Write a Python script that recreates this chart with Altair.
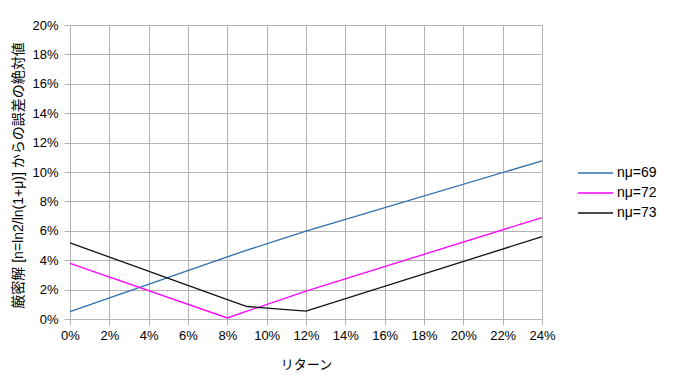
import altair as alt
import pandas as pd

# Return (fraction) sample points
returns = [0.0, 0.08, 0.09, 0.12, 0.24]
# Absolute error vs exact solution
err_69 = [0.0050, 0.0423, 0.0468, 0.0598, 0.1076]
err_72 = [0.0378, 0.0007, 0.0053, 0.0190, 0.0690]
err_73 = [0.0518, 0.0132, 0.0085, 0.0054, 0.0560]

series_names = ["nμ=69", "nμ=72", "nμ=73"]
series_colors = ["#2f6fad", "#ff00ff", "#111111"]

x_ticks = [i / 100 for i in range(0, 25, 2)]
y_ticks = [i / 100 for i in range(0, 21, 2)]

rows = []
for name, vals in zip(series_names, [err_69, err_72, err_73]):
    for i, (r, v) in enumerate(zip(returns, vals)):
        rows.append({"series": name, "ret": r, "err": v, "order": i})
df = pd.DataFrame(rows)

FONT = "Liberation Sans, Noto Sans CJK JP"

chart = alt.Chart(df).mark_line(strokeWidth=1.3).encode(
    x=alt.X("ret:Q",
            scale=alt.Scale(domain=[0, 0.24], nice=False, zero=False),
            axis=alt.Axis(values=x_ticks, format=".0%", title="リターン",
                          grid=True, gridColor="#b3b3b3", gridWidth=1,
                          domain=False, tickColor="#b3b3b3", tickSize=6,
                          labelFontSize=13, labelColor="#000000", labelPadding=4,
                          labelFlush=False, labelOverlap=False,
                          labelFont=FONT, titleFont=FONT, titleFontSize=13,
                          titleFontWeight="normal", titleColor="#000000",
                          titleY=45, titleBaseline="middle")),
    y=alt.Y("err:Q",
            scale=alt.Scale(domain=[0, 0.2], nice=False),
            axis=alt.Axis(values=y_ticks, format=".0%",
                          title="厳密解  [n=ln2/ln(1+μ)]  からの誤差の絶対値",
                          grid=True, gridColor="#b3b3b3", gridWidth=1,
                          domain=False, tickColor="#b3b3b3", tickSize=6,
                          labelFontSize=13, labelColor="#000000", labelPadding=6,
                          labelFlush=False, labelOverlap=False,
                          labelFont=FONT, titleFont=FONT, titleFontSize=14,
                          titleFontWeight="normal", titleColor="#000000",
                          titleX=-52, titleY=150, titleAngle=-90,
                          titleAlign="center", titleBaseline="middle")),
    color=alt.Color("series:N",
                    scale=alt.Scale(domain=series_names, range=series_colors),
                    legend=alt.Legend(title=None, orient="none", legendX=507, legendY=139,
                                      symbolType="stroke", symbolSize=1225,
                                      symbolStrokeWidth=1.3, labelFontSize=14,
                                      labelFont=FONT, labelColor="#000000",
                                      clipHeight=18, rowPadding=2, labelOffset=3)),
    order="order:Q",
).properties(
    width=472, height=294,
    autosize=alt.AutoSizeParams(type="none"),
    padding={"left": 62, "top": 17, "right": 130, "bottom": 53},
).configure_view(stroke=None).configure(background="white")

chart.save("out.html", embed_options={"renderer": "svg", "actions": False})
